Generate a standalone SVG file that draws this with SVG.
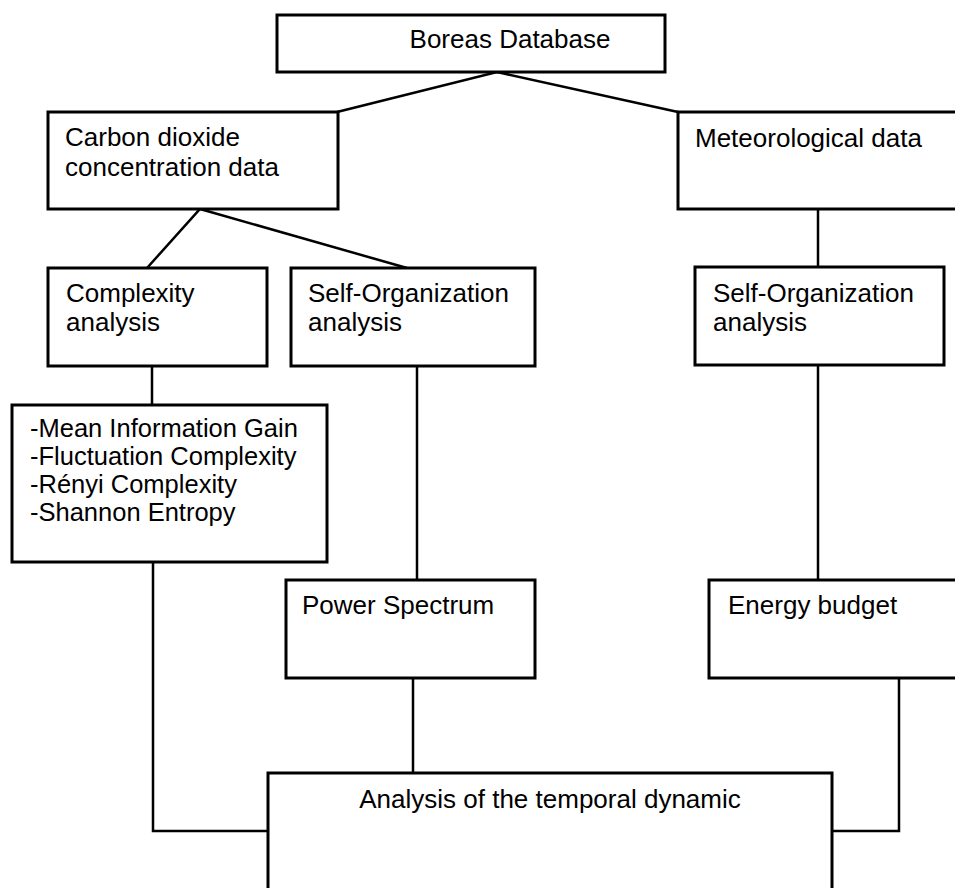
<svg xmlns="http://www.w3.org/2000/svg" width="955" height="888" viewBox="0 0 955 888">
<style>
.box{fill:#fff;stroke:#000;stroke-width:3}
.t{font-family:"Liberation Sans",Arial,sans-serif;font-size:26px;fill:#000}
.s{font-size:25.5px}
.c{fill:none;stroke:#000;stroke-width:2.5}
</style>
<rect width="955" height="888" fill="#fff"/>
<g id="connectors">
<polyline class="c" points="337,112 497,72 678,112"/>
<polyline class="c" points="147,268 200,209 407,268"/>
<line class="c" x1="818" y1="209" x2="818" y2="267"/>
<line class="c" x1="152" y1="366" x2="152" y2="405"/>
<line class="c" x1="417" y1="366" x2="417" y2="580"/>
<line class="c" x1="818" y1="365" x2="818" y2="580"/>
<polyline class="c" points="153,562 153,831 268,831"/>
<line class="c" x1="413" y1="678" x2="413" y2="773"/>
<polyline class="c" points="899,678 899,831 832,831"/>
</g>
<g id="boreas">
<rect class="box" x="277" y="15" width="388" height="57"/>
<text class="t" x="510" y="48" text-anchor="middle">Boreas Database</text>
</g>
<g id="carbon">
<rect class="box" x="48" y="112" width="290" height="97"/>
<text class="t" x="65" y="146">Carbon dioxide</text>
<text class="t" x="65" y="176">concentration data</text>
</g>
<g id="meteo">
<rect class="box" x="678" y="112" width="300" height="97"/>
<text class="t" x="695" y="147">Meteorological data</text>
</g>
<g id="complexity">
<rect class="box" x="48" y="268" width="219" height="98"/>
<text class="t" x="66" y="302">Complexity</text>
<text class="t" x="66" y="331">analysis</text>
</g>
<g id="selforg1">
<rect class="box" x="291" y="268" width="244" height="98"/>
<text class="t" x="308" y="302">Self-Organization</text>
<text class="t" x="308" y="331">analysis</text>
</g>
<g id="selforg2">
<rect class="box" x="695" y="267" width="249" height="98"/>
<text class="t" x="713" y="302">Self-Organization</text>
<text class="t" x="713" y="331">analysis</text>
</g>
<g id="measures">
<rect class="box" x="12" y="405" width="315" height="157"/>
<text class="t s" x="30" y="437">-Mean Information Gain</text>
<text class="t s" x="30" y="465">-Fluctuation Complexity</text>
<text class="t s" x="30" y="493">-Rényi Complexity</text>
<text class="t s" x="30" y="521">-Shannon Entropy</text>
</g>
<g id="power">
<rect class="box" x="286" y="580" width="249" height="98"/>
<text class="t" x="302" y="614">Power Spectrum</text>
</g>
<g id="energy">
<rect class="box" x="709" y="580" width="270" height="98"/>
<text class="t" x="728" y="614">Energy budget</text>
</g>
<g id="analysis">
<rect class="box" x="268" y="773" width="564" height="140"/>
<text class="t" x="550" y="808" text-anchor="middle">Analysis of the temporal dynamic</text>
</g>
</svg>
